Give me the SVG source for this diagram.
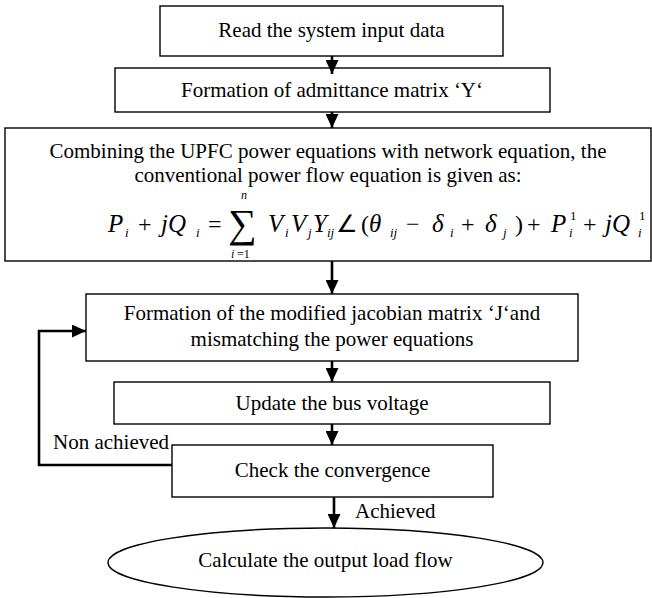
<svg xmlns="http://www.w3.org/2000/svg" width="652" height="598" viewBox="0 0 652 598">
<style>
.box{fill:#fff;stroke:#000;stroke-width:1.4}
.t{font-family:"Liberation Serif","Times New Roman",serif;font-size:21px;fill:#000;text-anchor:middle}
.l{font-family:"Liberation Serif","Times New Roman",serif;font-size:21px;fill:#000}
.conn{fill:none;stroke:#000;stroke-width:2.6}
.eq{font-family:"Liberation Serif","Times New Roman",serif;font-style:italic;font-size:25px;fill:#000}
.op{font-family:"Liberation Serif","Times New Roman",serif;font-size:24px;fill:#000}
.sb{font-family:"Liberation Serif","Times New Roman",serif;font-style:italic;font-size:13px;fill:#000}
.sn{font-family:"Liberation Serif","Times New Roman",serif;font-size:13px;fill:#000}
</style>
<defs>
<marker id="ah" viewBox="0 0 14 13" refX="14" refY="6.5" markerWidth="14" markerHeight="13" markerUnits="userSpaceOnUse" orient="auto">
<path d="M0,0 L14,6.5 L0,13 z" fill="#000"/>
</marker>
</defs>
<g id="n1"><rect class="box" x="160" y="6" width="343" height="50"/><text class="t" x="331.5" y="37">Read the system input data</text></g>
<g id="n2"><rect class="box" x="115" y="68" width="435" height="44"/><text class="t" x="332" y="97">Formation of admittance matrix ‘Y‘</text></g>
<g id="n3"><rect class="box" x="5" y="128" width="646" height="133"/>
<text class="t" x="328" y="158">Combining the UPFC power equations with network equation, the</text>
<text class="t" x="328" y="182">conventional power flow equation is given as:</text>
<text class="eq" x="108" y="232">P</text><text class="sb" x="125" y="237">i</text>
<text class="op" x="138" y="232">+</text>
<text class="eq" x="161" y="232">jQ</text><text class="sb" x="196" y="237">i</text>
<text class="op" x="208" y="232">=</text>
<text class="op" x="228" y="237" style="font-size:40px">∑</text>
<text class="sb" x="241" y="199" style="font-size:12px">n</text>
<text class="sb" x="231" y="258" style="font-size:12px">i</text><text class="sn" x="237" y="258" style="font-size:12px">=1</text>
<text class="eq" x="268" y="232">V</text><text class="sb" x="285" y="237">i</text>
<text class="eq" x="291" y="232">V</text><text class="sb" x="308" y="237">j</text>
<text class="eq" x="313" y="232">Y</text><text class="sb" x="327" y="237">ij</text>
<text class="op" x="336" y="232">∠</text>
<text class="op" x="361" y="232">(</text>
<text class="eq" x="369" y="232">θ</text><text class="sb" x="390" y="237">ij</text>
<text class="op" x="406" y="232">−</text>
<text class="eq" x="432" y="232">δ</text><text class="sb" x="450" y="237">i</text>
<text class="op" x="461" y="232">+</text>
<text class="eq" x="485" y="232">δ</text><text class="sb" x="503" y="237">j</text>
<text class="op" x="515" y="232">)</text>
<text class="op" x="527" y="232">+</text>
<text class="eq" x="551" y="232">P</text><text class="sn" x="570" y="220">1</text><text class="sb" x="569" y="237">i</text>
<text class="op" x="583" y="232">+</text>
<text class="eq" x="605" y="232">jQ</text><text class="sn" x="639" y="220">1</text><text class="sb" x="638" y="237">i</text>
</g>
<g id="n4"><rect class="box" x="86" y="294" width="492" height="67"/>
<text class="t" x="332" y="320">Formation of the modified jacobian matrix ‘J‘and</text>
<text class="t" x="332" y="346">mismatching the power equations</text></g>
<g id="n5"><rect class="box" x="114" y="382" width="436" height="42"/><text class="t" x="332" y="410">Update the bus voltage</text></g>
<g id="n6"><rect class="box" x="172" y="445" width="321" height="52"/><text class="t" x="332.5" y="477">Check the convergence</text></g>
<g id="n7"><ellipse class="box" cx="325.5" cy="562.5" rx="217.5" ry="34.5"/><text class="t" x="325.5" y="567">Calculate the output load flow</text></g>
<g id="connectors">
<path class="conn" d="M332,56 V74" marker-end="url(#ah)"/>
<path class="conn" d="M332,112 V128" marker-end="url(#ah)"/>
<path class="conn" d="M332,261 V294" marker-end="url(#ah)"/>
<path class="conn" d="M332,361 V382" marker-end="url(#ah)"/>
<path class="conn" d="M332,424 V445" marker-end="url(#ah)"/>
<path class="conn" d="M334,497 V528" marker-end="url(#ah)"/>
<path class="conn" d="M172,465 H39 V331 H86" marker-end="url(#ah)"/>
<text class="l" x="355" y="518">Achieved</text>
<text class="l" x="53" y="449">Non achieved</text>
</g>
</svg>
